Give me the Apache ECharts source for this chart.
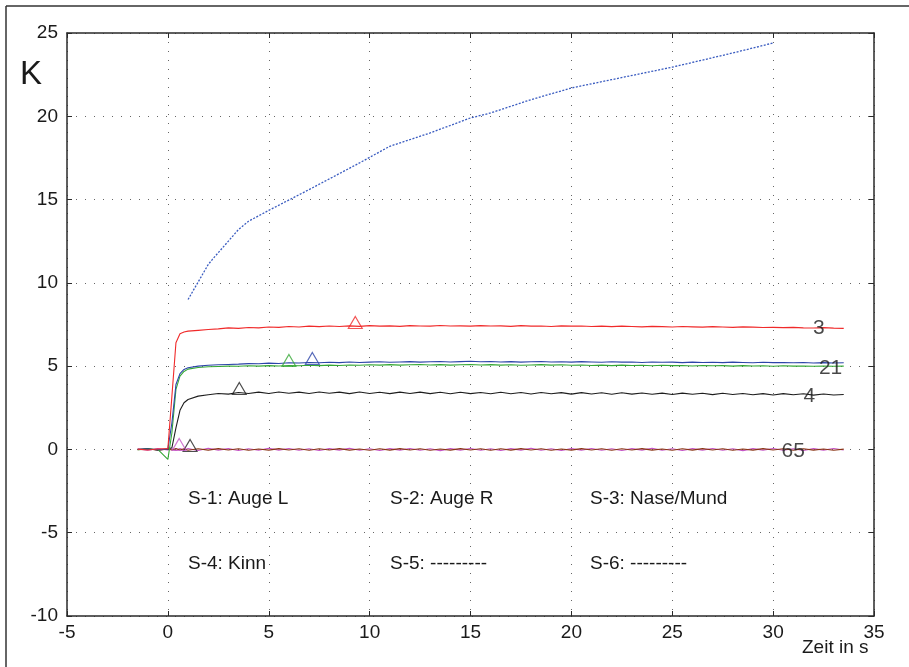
<!DOCTYPE html>
<html><head><meta charset="utf-8">
<script src="https://cdn.jsdelivr.net/npm/echarts@6/dist/echarts.min.js"></script>
<style>html,body{margin:0;padding:0;background:#fff}#c{width:909px;height:667px}</style>
</head><body><div id="c"></div>
<script>
// time base (s)
const time = [-1.5,-1,-0.5,0,0.2,0.4,0.6,0.8,1,1.5,2,2.5,3,3.5,4,4.5,5,5.5,6,6.5,7,7.5,8,8.5,9,9.5,10,10.5,11,11.5,12,12.5,13,13.5,14,14.5,15,15.5,16,16.5,17,17.5,18,18.5,19,19.5,20,20.5,21,21.5,22,22.5,23,23.5,24,24.5,25,25.5,26,26.5,27,27.5,28,28.5,29,29.5,30,30.5,31,31.5,32,32.5,33,33.5];
// S-1: Auge L (green)
const s1 = [-0.02,0.02,0.0,-0.6,1.0,3.6,4.4,4.68,4.82,4.92,
  4.96,4.98,5.0,4.99,5.02,5.0,5.03,5.01,5.04,5.02,
  5.05,5.03,5.06,5.04,5.07,5.05,5.08,5.06,5.09,5.06,
  5.08,5.1,5.07,5.09,5.06,5.08,5.1,5.07,5.09,5.06,
  5.08,5.05,5.07,5.09,5.06,5.08,5.05,5.07,5.04,5.06,
  5.03,5.06,5.04,5.05,5.02,5.05,5.03,5.04,5.01,5.04,
  5.02,5.03,5.0,5.03,5.01,5.02,4.99,5.02,5.0,5.01,
  4.99,5.01,4.99,5.0];
// S-2: Auge R (blue)
const s2 = [0.01,0.03,-0.02,0.02,1.6,3.9,4.55,4.8,4.9,5.0,
  5.05,5.08,5.1,5.12,5.15,5.14,5.18,5.16,5.2,5.19,
  5.22,5.2,5.23,5.21,5.25,5.22,5.24,5.26,5.23,5.25,
  5.27,5.24,5.26,5.28,5.25,5.27,5.29,5.26,5.28,5.25,
  5.27,5.24,5.26,5.28,5.25,5.26,5.24,5.27,5.25,5.23,
  5.26,5.24,5.25,5.22,5.25,5.23,5.24,5.21,5.24,5.22,
  5.23,5.21,5.24,5.22,5.2,5.23,5.21,5.22,5.2,5.22,
  5.19,5.21,5.19,5.2];
// S-3: Nase/Mund (red)
const s3 = [0.02,-0.03,0.03,0.05,3.2,6.4,6.95,7.05,7.1,7.15,
  7.2,7.24,7.3,7.27,7.32,7.3,7.35,7.33,7.38,7.35,
  7.4,7.37,7.41,7.38,7.42,7.39,7.43,7.4,7.42,7.39,
  7.43,7.41,7.4,7.44,7.41,7.42,7.4,7.43,7.41,7.42,
  7.39,7.43,7.4,7.41,7.38,7.42,7.4,7.41,7.38,7.4,
  7.37,7.4,7.38,7.36,7.39,7.37,7.35,7.38,7.36,7.34,
  7.37,7.35,7.33,7.36,7.34,7.32,7.33,7.31,7.33,7.3,
  7.29,7.31,7.28,7.27];
// S-4: Kinn (black)
const s4 = [0.0,0.04,-0.03,0.02,0.1,1.3,2.35,2.8,3.0,3.2,
  3.28,3.36,3.32,3.42,3.36,3.44,3.36,3.45,3.37,3.44,
  3.36,3.45,3.37,3.44,3.35,3.45,3.36,3.43,3.35,3.44,
  3.36,3.44,3.35,3.43,3.34,3.43,3.35,3.42,3.34,3.43,
  3.34,3.42,3.33,3.42,3.34,3.41,3.32,3.41,3.33,3.4,
  3.31,3.4,3.32,3.39,3.31,3.38,3.3,3.38,3.31,3.37,
  3.29,3.37,3.3,3.36,3.28,3.35,3.27,3.35,3.28,3.34,
  3.26,3.33,3.27,3.3];
// S-5 (brown)
const s5 = [-0.02,0.04,-0.05,0.03,-0.04,0.05,-0.03,0.04,-0.05,0.04,
  -0.04,0.05,-0.03,0.04,-0.05,0.03,-0.04,0.05,-0.03,0.04,
  -0.05,0.04,-0.03,0.05,-0.04,0.03,-0.05,0.04,-0.04,0.05,
  -0.03,0.04,-0.05,0.03,-0.04,0.05,-0.03,0.04,-0.05,0.04,
  -0.04,0.05,-0.03,0.04,-0.05,0.03,-0.04,0.05,-0.03,0.04,
  -0.05,0.04,-0.03,0.05,-0.04,0.03,-0.05,0.04,-0.04,0.05,
  -0.03,0.04,-0.05,0.03,-0.04,0.05,-0.03,0.04,-0.05,0.04,
  -0.04,0.03,-0.05,0.02];
// S-6 (purple)
const s6 = [0.03,-0.04,0.05,-0.03,0.04,-0.05,0.06,-0.04,0.05,-0.06,
  0.07,-0.04,0.05,-0.06,0.04,-0.05,0.07,-0.04,0.06,-0.05,
  0.04,-0.06,0.05,-0.04,0.07,-0.05,0.04,-0.06,0.05,-0.04,
  0.06,-0.05,0.04,-0.07,0.05,-0.04,0.06,-0.05,0.04,-0.06,
  0.05,-0.04,0.07,-0.05,0.04,-0.06,0.05,-0.04,0.06,-0.05,
  0.04,-0.06,0.05,-0.04,0.07,-0.05,0.04,-0.06,0.05,-0.04,
  0.06,-0.05,0.04,-0.07,0.05,-0.04,0.06,-0.05,0.04,-0.06,
  0.05,-0.04,0.06,-0.03];
// cumulative curve (blue dotted)
const accTime = [1,2,2.2,3.5,4,5,7,9.5,11,13,15,16,18,20,22,25,28,30];
const accVal  = [9.0,11.1,11.4,13.2,13.7,14.35,15.6,17.2,18.2,19.0,19.9,20.2,21.0,21.7,22.2,22.95,23.8,24.4];
// triangle markers (x, y) per sensor: S-1, S-2, S-3, S-4, S-5, S-6
const markX = [6.0, 7.16, 9.29, 3.54, 1.1, 0.56];
const markY = [5.34, 5.46, 7.62, 3.66, 0.24, 0.3];
// curve number labels
const numText = ['3', '21', '4', '65'];
const numX = [32.27, 32.85, 31.8, 31.0];
const numY = [7.26, 4.86, 3.18, -0.1];
// legend texts
const legendText = ['S-1: Auge L', 'S-2: Auge R', 'S-3: Nase/Mund', 'S-4: Kinn', 'S-5: ---------', 'S-6: ---------'];
const xTicks = {min: -5, max: 35, interval: 5};
const yTicks = {min: -10, max: 25, interval: 5};

const font = '"Liberation Sans", Arial, sans-serif';
const colors = ['#35a835', '#2c44a8', '#f02a2a', '#1e1e1e', '#8a3515', '#c455c4'];
const frame = {color: '#2a2a2a', width: 1.5};

function pairs(xs, ys) { return xs.map((x, i) => [x, ys[i]]); }

const chart = echarts.init(document.getElementById('c'), null, {renderer: 'canvas'});
const grid = {left: 67, right: 35, top: 33, bottom: 51, containLabel: false};

function xAx(pos, labels) {
  return {type: 'value', position: pos, min: xTicks.min, max: xTicks.max, interval: xTicks.interval,
    axisLine: {show: true, onZero: false, lineStyle: frame},
    axisTick: {show: true, inside: true, length: 5, lineStyle: {color: '#2a2a2a', width: 1}},
    axisLabel: {show: labels, color: '#1a1a1a', fontSize: 19, fontFamily: font, margin: 7},
    splitLine: {show: labels, lineStyle: {color: '#666', type: [1, 8], width: 1}}};
}
function yAx(pos, labels) {
  return {type: 'value', position: pos, min: yTicks.min, max: yTicks.max, interval: yTicks.interval,
    axisLine: {show: true, onZero: false, lineStyle: frame},
    axisTick: {show: true, inside: true, length: 5, lineStyle: {color: '#2a2a2a', width: 1}},
    axisLabel: {show: labels, color: '#1a1a1a', fontSize: 19, fontFamily: font, margin: 9},
    splitLine: {show: labels, lineStyle: {color: '#666', type: [1, 8], width: 1}}};
}

const lineData = [s1, s2, s3, s4, s5, s6];
const drawOrder = [5, 4, 3, 0, 1, 2];
const series = [];
series.push({type: 'line', data: pairs(accTime, accVal), showSymbol: false, symbol: 'none',
  lineStyle: {color: '#3a5cc0', width: 1.3, type: [2, 1.5]}, z: 2, animation: false});
drawOrder.forEach(i => {
  series.push({type: 'line', data: pairs(time, lineData[i]), showSymbol: false, symbol: 'none',
    lineStyle: {color: colors[i], width: 1.1}, z: 3, animation: false});
});
markX.forEach((x, i) => {
  series.push({type: 'scatter', data: [[x, markY[i]]], symbol: 'triangle', symbolSize: [14, 12],
    itemStyle: {color: 'rgba(0,0,0,0)', borderColor: i === 4 ? '#222' : colors[i], borderWidth: 1.1},
    z: 4, animation: false, silent: true});
});
series.push({type: 'scatter', symbolSize: 1, itemStyle: {color: 'rgba(0,0,0,0)'},
  data: numText.map((t, i) => ({value: [numX[i], numY[i]], name: t})),
  label: {show: true, position: 'inside', formatter: p => p.name, color: '#1a1a1a', fontSize: 21, fontFamily: font},
  z: 5, animation: false, silent: true});

const legendPos = [[188, 499], [390, 499], [590, 499], [188, 564], [390, 564], [590, 564]];
const graphic = [
  {type: 'line', shape: {x1: 6, y1: 6, x2: 909, y2: 6}, style: {stroke: '#333', lineWidth: 1.5}},
  {type: 'line', shape: {x1: 6, y1: 6, x2: 6, y2: 667}, style: {stroke: '#333', lineWidth: 1.5}},
  {type: 'text', x: 20, y: 75, style: {text: 'K', font: '33px ' + font, fill: '#1a1a1a', textVerticalAlign: 'middle'}},
  {type: 'text', x: 802, y: 648, style: {text: 'Zeit in s', font: '19px ' + font, fill: '#1a1a1a', textVerticalAlign: 'middle'}}
];
legendText.forEach((t, i) => {
  graphic.push({type: 'text', x: legendPos[i][0], y: legendPos[i][1],
    style: {text: t, font: '19px ' + font, fill: '#1a1a1a', textVerticalAlign: 'middle'}});
});

chart.setOption({
  animation: false,
  backgroundColor: '#fff',
  grid: grid,
  xAxis: [xAx('bottom', true), xAx('top', false)],
  yAxis: [yAx('left', true), yAx('right', false)],
  series: series,
  graphic: graphic
});
</script>
</body></html>
